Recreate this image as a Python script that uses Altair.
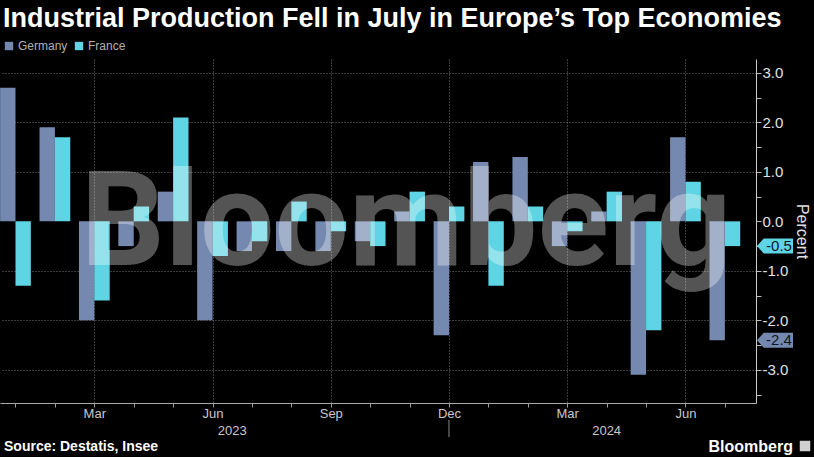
import altair as alt
import pandas as pd

TITLE = "Industrial Production Fell in July in Europe’s Top Economies"
SOURCE = "Source: Destatis, Insee"
BRAND = "Bloomberg"

months = ["Jan", "Feb", "Mar", "Apr", "May", "Jun", "Jul", "Aug", "Sep", "Oct", "Nov", "Dec",
          "Jan", "Feb", "Mar", "Apr", "May", "Jun", "Jul"]
years = [2023] * 12 + [2024] * 7
germany = [2.7, 1.9, -2.0, -0.5, 0.6, -2.0, -0.6, -0.6, -0.6, -0.4, 0.2, -2.3,
           1.2, 1.3, -0.5, 0.2, -3.1, 1.7, -2.4]
france = [-1.3, 1.7, -1.6, 0.3, 2.1, -0.7, -0.4, 0.4, -0.2, -0.5, 0.6, 0.3,
          -1.3, 0.3, -0.2, 0.6, -2.2, 0.8, -0.5]
series = ["Germany", "France"]
colors = ["#7589b0", "#5fd4e4"]
y_ticks = [-3.5, -3.0, -2.5, -2.0, -1.5, -1.0, -0.5, 0.0, 0.5, 1.0, 1.5, 2.0, 2.5, 3.0]

n = len(months)
idx = list(range(n))
rows = []
for s, vals in zip(series, [germany, france]):
    for i, v in enumerate(vals):
        rows.append({"idx": i, "month": months[i], "year": years[i], "series": s, "value": v})
df = pd.DataFrame(rows)
last = df[df["idx"] == n - 1].copy()
year_df = pd.DataFrame({"idx": idx, "year": [str(y) for y in years]})
sep_idx = years.index(years[-1]) - 1

FONT = "Liberation Sans"
x_scale = alt.Scale(domain=[-0.393, 18.79], nice=False, zero=False)
y_scale = alt.Scale(domain=[-3.67, 3.28], nice=False, zero=False)
color_scale = alt.Scale(domain=series, range=colors)

month_js = "[" + ",".join("'%s'" % m for m in months) + "]"
x_axis = alt.Axis(
    values=idx, orient="bottom", title=None,
    labelExpr="datum.value %% 3 == 2 ? %s[datum.value] : ''" % month_js,
    labelOverlap=False, labelFont=FONT, labelFontSize=13, labelColor="#c8c8c8",
    labelPadding=0, tickSize=4, tickColor="#999", domainColor="#aaa",
    grid=True, gridDash=[1, 2], gridColor="#777",
    gridOpacity={"condition": {"test": "datum.value % 3 == 2", "value": 1}, "value": 0},
)
y_axis = alt.Axis(
    values=y_ticks, orient="right", title="Percent",
    labelExpr="datum.value % 1 == 0 ? replace(format(datum.value, '.1f'), '\u2212', '-') : ''",
    labelOverlap=False, labelFont=FONT, labelFontSize=15, labelColor="#e0e0e0",
    labelPadding=1, tickSize=5, tickColor="#bbb", domainColor="#ccc",
    titleFont=FONT, titleFontSize=16, titleFontWeight="normal", titleColor="#e0e0e0",
    titleAngle=90, titlePadding=6,
    grid=True, gridDash=[1, 2], gridColor="#777",
    gridOpacity={"condition": {"test": "datum.value % 1 == 0 && datum.value != 0", "value": 1}, "value": 0},
)
legend = alt.Legend(
    title=None, orient="none", legendX=3, legendY=-19, direction="horizontal",
    symbolType="square", symbolSize=70, symbolStrokeWidth=0, labelFont=FONT,
    labelFontSize=12, labelColor="#b0b0b0", columnPadding=5, labelOffset=3,
)

bars = alt.Chart(df).transform_calculate(
    x0="datum.idx + (datum.series == 'Germany' ? -0.39 : 0)",
    x1="datum.idx + (datum.series == 'Germany' ? 0 : 0.39)",
).mark_bar().encode(
    x=alt.X("x0:Q", scale=x_scale, axis=x_axis),
    x2="x1:Q",
    y=alt.Y("value:Q", scale=y_scale, axis=y_axis),
    y2=alt.datum(0),
    color=alt.Color("series:N", scale=color_scale, legend=legend),
)

watermark = alt.Chart(pd.DataFrame({"t": [BRAND]})).mark_text(
    font="Roboto", fontWeight="bold", fontSize=132, color="white", opacity=0.33,
    align="center", baseline="alphabetic",
).encode(x=alt.value(406), y=alt.value(206), text="t:N")

tag_path = "M -1 0 L -0.55 -0.5 L 1.4 -0.5 L 1.4 0.5 L -0.55 0.5 Z"
tags = alt.Chart(last).mark_point(shape=tag_path, filled=True, size=900, opacity=1).encode(
    x=alt.value(772),
    y=alt.Y("value:Q", scale=y_scale, axis=y_axis),
    color=alt.Color("series:N", scale=color_scale, legend=legend),
)
tag_text = alt.Chart(last).transform_calculate(
    lab="replace(format(datum.value, '.1f'), '\u2212', '-')"
).mark_text(font=FONT, fontSize=15, color="#0d1626", align="center", baseline="middle").encode(
    x=alt.value(779),
    y=alt.Y("value:Q", scale=y_scale, axis=y_axis),
    text="lab:N",
)

year_labels = alt.Chart(year_df).transform_aggregate(
    mid="mean(idx)", groupby=["year"]
).mark_text(font=FONT, fontSize=13, color="#c8c8c8", baseline="middle").encode(
    x=alt.X("mid:Q", scale=x_scale, axis=x_axis),
    y=alt.value(372),
    text="year:N",
)

separator = alt.Chart(pd.DataFrame({"i": [sep_idx]})).mark_rule(color="#888").encode(
    x=alt.X("i:Q", scale=x_scale, axis=x_axis),
    y=alt.value(361), y2=alt.value(378),
)

title = alt.Chart(pd.DataFrame({"t": [TITLE]})).mark_text(
    font=FONT, fontWeight="bold", fontSize=27, color="white", align="left", baseline="alphabetic"
).encode(x=alt.value(3), y=alt.value(-32), text="t:N")

source = alt.Chart(pd.DataFrame({"t": [SOURCE]})).mark_text(
    font=FONT, fontWeight="bold", fontSize=14, color="white", align="left", baseline="alphabetic"
).encode(x=alt.value(4), y=alt.value(392), text="t:N")

logo = alt.Chart(pd.DataFrame({"t": [BRAND]})).mark_text(
    font=FONT, fontWeight="bold", fontSize=16, color="white", align="right", baseline="alphabetic"
).encode(x=alt.value(793), y=alt.value(393), text="t:N")

logo_icon = alt.Chart(pd.DataFrame({"t": [BRAND]})).mark_point(
    shape="square", filled=True, size=110, color="#d0d0d0", opacity=1
).encode(x=alt.value(805), y=alt.value(387))

chart = alt.layer(
    bars, watermark, tags, tag_text, year_labels, separator, title, source, logo, logo_icon
).properties(
    width=756, height=344, autosize="none",
    padding={"left": 0, "top": 59, "right": 58, "bottom": 54},
    background="black",
).configure_view(stroke=None)

chart.save("out.html", embed_options={"renderer": "svg", "actions": False})
